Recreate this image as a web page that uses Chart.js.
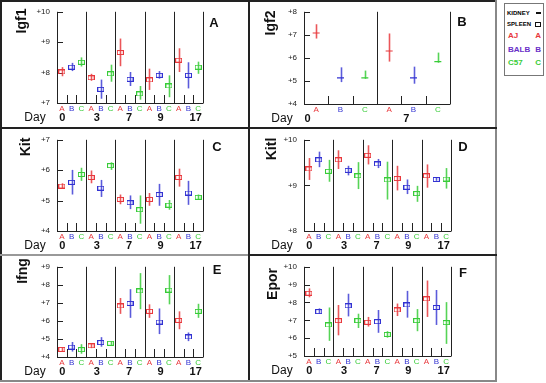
<!DOCTYPE html>
<html>
<head>
<meta charset="utf-8">
<script src="https://cdn.jsdelivr.net/npm/chart.js@4.4.0/dist/chart.umd.min.js"></script>
<style>
  body { margin: 0; background: #fff; }
  #fig { position: relative; width: 546px; height: 383px; overflow: hidden; font-family: "Liberation Sans", Arial, sans-serif; }
  #fig canvas { position: absolute; }
  .ln { position: absolute; background: #222; }
  #legend { position: absolute; left: 504px; top: 3px; width: 38px; height: 71px; border: 1px solid #777; font-weight: bold; }
  #legend div { position: absolute; left: 3px; right: 2px; height: 10px; line-height: 10px; font-size: 8px; }
  #legend span { position: absolute; right: 0; }
</style>
</head>
<body>
<div id="fig">
  <canvas id="cIgf1" width="249" height="128" style="left:0;top:0"></canvas>
  <canvas id="cIgf2" width="248" height="128" style="left:249px;top:0"></canvas>
  <canvas id="cKit" width="249" height="127" style="left:0;top:128px"></canvas>
  <canvas id="cKitl" width="248" height="127" style="left:249px;top:128px"></canvas>
  <canvas id="cIfng" width="249" height="128" style="left:0;top:255px"></canvas>
  <canvas id="cEpor" width="248" height="128" style="left:249px;top:255px"></canvas>

  <div class="ln" style="left:0;top:0;width:497px;height:2px"></div>
  <div class="ln" style="left:0;top:0;width:2px;height:382px"></div>
  <div class="ln" style="left:248px;top:0;width:2px;height:382px"></div>
  <div class="ln" style="left:495px;top:0;width:2px;height:382px;background:#888"></div>
  <div class="ln" style="left:0;top:380px;width:497px;height:2px;background:#888"></div>
  <div class="ln" style="left:0;top:127px;width:497px;height:2px"></div>
  <div class="ln" style="left:0;top:254px;width:248px;height:2px;background:#999"></div>
  <div class="ln" style="left:248px;top:254px;width:249px;height:2px"></div>

  <div id="legend">
    <div style="top:4px;font-size:6px;left:2px">KIDNEY<span style="top:4px;width:5px;height:2px;background:#111"></span></div>
    <div style="top:15px;font-size:6px;left:2px">SPLEEN<span style="top:3px;width:4px;height:3px;border:1px solid #111"></span></div>
    <div style="top:27px;color:#e8383c">AJ<span>A</span></div>
    <div style="top:41px;color:#6a30c8">BALB<span>B</span></div>
    <div style="top:54px;color:#38cc38">C57<span>C</span></div>
  </div>
</div>

<script>
const days = ["0", "3", "7", "9", "17"];
const igf2Days = ["0", "7"];
const strains = ["A", "B", "C"];
const dayLabelPos = [0.05, 3.6, 6.9, 10.15, 13.75];
const igf2DayLabelPos = [-0.35, 3.7];

const igf1Mean = [8.02, 8.18, 8.34, 7.83, 7.45, 7.96, 8.66, 7.78, 7.30, 7.76, 7.91, 7.56, 8.41, 7.91, 8.18];
const igf1Low  = [7.88, 8.05, 8.20, 7.73, 7.14, 7.70, 8.21, 7.56, 7.11, 7.43, 7.80, 7.19, 8.02, 7.48, 7.96];
const igf1High = [8.18, 8.32, 8.50, 7.96, 7.77, 8.26, 9.12, 8.02, 7.56, 8.13, 8.05, 7.91, 8.80, 8.34, 8.36];
const igf1Ticks = ["+7", "+8", "+9", "+10"];

const igf2Mean = [7.08, 5.13, 5.13, 6.30, 5.13, 5.84];
const igf2Low  = [6.84, 4.95, 5.09, 5.84, 4.88, 5.79];
const igf2High = [7.46, 5.59, 5.45, 7.06, 5.62, 6.23];
const igf2Ticks = ["+4", "+5", "+6", "+7", "+8"];

const kitMean = [5.48, 5.60, 5.86, 5.76, 5.41, 6.15, 5.04, 4.93, 4.70, 5.04, 5.20, 4.85, 5.76, 5.25, 5.11];
const kitLow  = [5.40, 5.20, 5.65, 5.57, 5.12, 6.01, 4.88, 4.72, 4.24, 4.83, 4.83, 4.70, 5.46, 4.86, 5.02];
const kitHigh = [5.57, 6.01, 6.08, 5.99, 5.68, 6.26, 5.20, 5.17, 5.17, 5.25, 5.55, 5.02, 6.05, 5.65, 5.20];
const kitTicks = ["+4", "+5", "+6", "+7"];

const kitlMean = [9.36, 9.56, 9.31, 9.56, 9.33, 9.21, 9.66, 9.47, 9.12, 9.15, 8.96, 8.82, 9.21, 9.13, 9.14];
const kitlLow  = [9.12, 9.40, 9.08, 9.36, 9.22, 8.92, 9.46, 9.38, 8.69, 8.89, 8.81, 8.64, 8.95, 9.10, 8.93];
const kitlHigh = [9.60, 9.74, 9.56, 9.77, 9.43, 9.51, 9.88, 9.58, 9.52, 9.43, 9.13, 8.99, 9.46, 9.17, 9.38];
const kitlTicks = ["+8", "+9", "+10"];

const ifngMean = [4.42, 4.55, 4.41, 4.62, 4.80, 4.76, 6.83, 6.97, 7.66, 6.53, 5.94, 7.71, 6.03, 5.11, 6.53];
const ifngLow  = [4.32, 4.30, 4.18, 4.49, 4.57, 4.67, 6.39, 6.17, 6.65, 6.17, 5.27, 6.92, 5.54, 4.88, 6.17];
const ifngHigh = [4.53, 4.83, 4.71, 4.76, 5.10, 4.87, 7.27, 7.76, 8.65, 6.92, 6.69, 8.54, 6.53, 5.36, 6.95];
const ifngTicks = ["+4", "+5", "+6", "+7", "+8", "+9"];

const eporMean = [8.52, 7.49, 6.74, 6.98, 7.81, 6.98, 6.89, 6.92, 6.21, 7.58, 7.86, 6.98, 8.20, 7.72, 6.87];
const eporLow  = [8.29, 7.37, 5.85, 6.16, 7.22, 6.57, 6.65, 6.30, 6.03, 7.24, 7.15, 6.39, 7.19, 6.74, 5.68];
const eporHigh = [8.79, 7.67, 7.72, 7.86, 8.49, 7.37, 7.19, 7.58, 6.39, 7.94, 8.65, 7.63, 9.23, 8.70, 8.02];
const eporTicks = ["+5", "+6", "+7", "+8", "+9", "+10"];

const strainColors = ["#e8383c", "#3232d2", "#38cc38"];
const barColors = ["rgba(232,56,60,0.85)", "rgba(50,50,210,0.8)", "rgba(56,204,56,0.85)"];
const fuente = '"Liberation Sans", Arial, sans-serif';

function marcador(color) {
  const c = document.createElement("canvas");
  c.width = 7;
  c.height = 5;
  const g = c.getContext("2d");
  g.strokeStyle = color;
  g.lineWidth = 1;
  g.strokeRect(0.5, 0.5, 6, 4);
  return c;
}

function panelPlugin(p) {
  return {
    id: "panel",
    beforeDatasetsDraw(chart) {
      const { ctx, chartArea: a, scales: { x, y } } = chart;
      const nDays = p.days.length;
      const px = (v) => Math.round(x.getPixelForValue(v)) + 0.5;
      ctx.save();
      ctx.strokeStyle = "#222";
      ctx.lineWidth = 1;
      ctx.beginPath();
      ctx.moveTo(Math.round(a.left) + 0.5, a.top);
      ctx.lineTo(Math.round(a.left) + 0.5, a.bottom);
      ctx.moveTo(a.left, Math.round(a.bottom) + 0.5);
      ctx.lineTo(px(nDays * 3 - 0.5), Math.round(a.bottom) + 0.5);
      for (let g = 1; g <= nDays; g++) {
        ctx.moveTo(px(g * 3 - 0.5), a.top);
        ctx.lineTo(px(g * 3 - 0.5), a.bottom);
      }
      for (let g = 0; g < nDays; g++) {
        [0.5, 1.5].forEach((o) => {
          ctx.moveTo(px(g * 3 + o), a.bottom - 8);
          ctx.lineTo(px(g * 3 + o), a.bottom);
        });
      }
      y.ticks.forEach((t) => {
        const yy = Math.round(y.getPixelForValue(t.value)) + 0.5;
        ctx.moveTo(a.left, yy);
        ctx.lineTo(a.left + 6, yy);
      });
      ctx.stroke();

      // barras de error
      ctx.lineWidth = 1.6;
      for (let k = 0; k < nDays * 3; k++) {
        const s = k % 3;
        ctx.strokeStyle = barColors[s];
        ctx.beginPath();
        ctx.moveTo(px(k), y.getPixelForValue(p.high[k]));
        ctx.lineTo(px(k), y.getPixelForValue(p.low[k]));
        ctx.stroke();
      }

      // letras de cepa y dias
      ctx.textAlign = "center";
      ctx.textBaseline = "middle";
      ctx.font = "8px " + fuente;
      for (let k = 0; k < nDays * 3; k++) {
        ctx.fillStyle = strainColors[k % 3];
        ctx.fillText(strains[k % 3], x.getPixelForValue(k), a.bottom + 6);
      }
      ctx.fillStyle = "#111";
      ctx.font = "bold 11px " + fuente;
      p.days.forEach((d, i) => {
        ctx.fillText(d, x.getPixelForValue(p.dayPos[i]), a.bottom + 15);
      });
      ctx.font = "12px " + fuente;
      ctx.fillText("Day", a.left - 22, a.bottom + 15);

      ctx.font = "bold 13px " + fuente;
      ctx.fillText(p.letter, p.letterX, p.letterY);

      ctx.translate(p.labelX, p.labelY);
      ctx.rotate(-Math.PI / 2);
      ctx.font = "bold 14px " + fuente;
      ctx.fillText(p.gene, 0, 0);
      ctx.restore();
    }
  };
}

function dibujarPanel(id, p) {
  const datasets = strains.map((s, si) => ({
    label: s,
    data: p.days.map((d, di) => ({ x: di * 3 + si, y: p.mean[di * 3 + si] })),
    pointStyle: p.kidney ? "line" : marcador(strainColors[si]),
    pointRadius: p.kidney ? 3.5 : 3,
    borderColor: strainColors[si],
    backgroundColor: strainColors[si],
    borderWidth: 1.2,
    showLine: false
  }));

  new Chart(document.getElementById(id), {
    type: "scatter",
    data: { datasets },
    options: {
      responsive: false,
      animation: false,
      layout: { padding: p.pad },
      plugins: { legend: { display: false }, tooltip: { enabled: false } },
      scales: {
        x: { type: "linear", min: -0.5, max: p.days.length * 3 - 0.5, display: false },
        y: {
          min: p.yMin,
          max: p.yMin + p.ticks.length - 1,
          afterFit: (scale) => { scale.width = p.yWidth; },
          ticks: {
            stepSize: 1,
            padding: 7,
            color: "#222",
            font: { size: 8, family: fuente },
            callback: (v, i) => p.ticks[i]
          },
          grid: { display: false, drawTicks: false },
          border: { display: false }
        }
      }
    },
    plugins: [panelPlugin(p)]
  });
}

dibujarPanel("cIgf1", {
  gene: "Igf1", letter: "A", days, dayPos: dayLabelPos,
  mean: igf1Mean, low: igf1Low, high: igf1High, ticks: igf1Ticks, yMin: 7,
  pad: { top: 10, bottom: 25, right: 46, left: 0 }, yWidth: 57,
  labelX: 22, labelY: 21, letterX: 214, letterY: 23
});

dibujarPanel("cIgf2", {
  gene: "Igf2", letter: "B", days: igf2Days, dayPos: igf2DayLabelPos, kidney: true,
  mean: igf2Mean, low: igf2Low, high: igf2High, ticks: igf2Ticks, yMin: 4,
  pad: { top: 10, bottom: 24, right: 47, left: 0 }, yWidth: 55,
  labelX: 22, labelY: 23, letterX: 213, letterY: 22
});

dibujarPanel("cKit", {
  gene: "Kit", letter: "C", days, dayPos: dayLabelPos,
  mean: kitMean, low: kitLow, high: kitHigh, ticks: kitTicks, yMin: 4,
  pad: { top: 9, bottom: 24, right: 46, left: 0 }, yWidth: 57,
  labelX: 26, labelY: 19, letterX: 217, letterY: 19
});

dibujarPanel("cKitl", {
  gene: "Kitl", letter: "D", days, dayPos: dayLabelPos,
  mean: kitlMean, low: kitlLow, high: kitlHigh, ticks: kitlTicks, yMin: 8,
  pad: { top: 9, bottom: 24, right: 46, left: 0 }, yWidth: 55,
  labelX: 23, labelY: 21, letterX: 214, letterY: 19
});

dibujarPanel("cIfng", {
  gene: "Ifng", letter: "E", days, dayPos: dayLabelPos,
  mean: ifngMean, low: ifngLow, high: ifngHigh, ticks: ifngTicks, yMin: 4,
  pad: { top: 7, bottom: 26, right: 46, left: 0 }, yWidth: 57,
  labelX: 23, labelY: 16, letterX: 217, letterY: 15
});

dibujarPanel("cEpor", {
  gene: "Epor", letter: "F", days, dayPos: dayLabelPos,
  mean: eporMean, low: eporLow, high: eporHigh, ticks: eporTicks, yMin: 5,
  pad: { top: 7, bottom: 27, right: 46, left: 0 }, yWidth: 55,
  labelX: 24, labelY: 29, letterX: 214, letterY: 18
});
</script>
</body>
</html>
